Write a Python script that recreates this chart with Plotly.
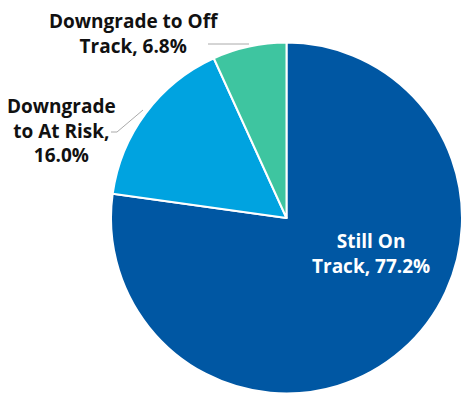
import plotly.graph_objects as go

labels = ["Still On Track", "Downgrade to At Risk", "Downgrade to Off Track"]
values = [77.2, 16.0, 6.8]
colors = ["#0057A3", "#00A3E0", "#3EC5A0"]

W, H = 462, 394

fig = go.Figure()
fig.add_trace(go.Pie(
    labels=labels, values=values, sort=False, direction="clockwise", rotation=0,
    marker=dict(colors=colors, line=dict(color="white", width=2)),
    textinfo="none", hoverinfo="label+percent", showlegend=False,
    domain=dict(x=[111 / W, 1.0], y=[1 - 393.5 / H, 1 - 42.5 / H]),
))

# invisible pixel-space axes for label placement
fig.add_trace(go.Scatter(x=[0, W], y=[0, H], mode="markers", marker=dict(opacity=0),
                         hoverinfo="skip", showlegend=False))

font = dict(family="Open Sans", size=19, color="#111111", weight="bold")

def label_text(i, splits):
    s = f"{labels[i]}, {values[i]:.1f}%"
    out = []
    for n in splits:
        out.append(s[:n].strip())
        s = s[n:]
    out.append(s.strip())
    return "<br>".join(out)

def place(text, xc, yc, color):
    fig.add_annotation(x=xc, y=yc, text=text, showarrow=False, align="center",
                       font=dict(font, color=color), xanchor="center", yanchor="middle")

# "Still On" / "Track, 77.2%"
place(label_text(0, [8]), 371, 253.5, "white")
# "Downgrade" / "to At Risk," / "16.0%"
place(label_text(1, [9, 12]), 61, 130, "#111111")
# "Downgrade to Off" / "Track, 6.8%"
place(label_text(2, [16]), 134, 33, "#111111")

line = dict(color="#AAAAAA", width=1)
fig.add_shape(type="path", path="M 111 132 L 117 132 L 143 110", line=line, xref="x", yref="y")
fig.add_shape(type="line", x0=208, y0=44, x1=249, y1=44, line=line, xref="x", yref="y")

fig.update_xaxes(range=[0, W], visible=False, fixedrange=True)
fig.update_yaxes(range=[H, 0], visible=False, fixedrange=True)
fig.update_layout(width=W, height=H, margin=dict(l=0, r=0, t=0, b=0),
                  paper_bgcolor="white", plot_bgcolor="rgba(0,0,0,0)")

fig.write_html("out.html", config={"displayModeBar": False},
               post_script="document.body.style.margin='0';")
